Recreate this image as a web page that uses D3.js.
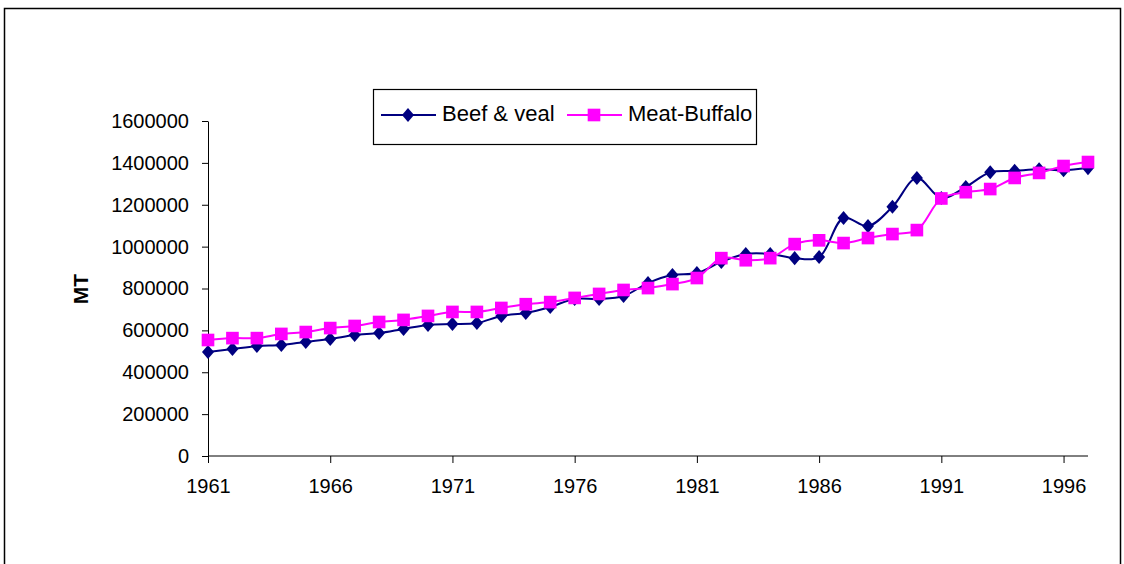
<!DOCTYPE html>
<html>
<head>
<meta charset="utf-8">
<title>Beef & veal vs Meat-Buffalo</title>
<style>
  body { margin: 0; background: #fff; }
  svg { display: block; font-family: "Liberation Sans", Arial, sans-serif; }
</style>
</head>
<body>
<svg id="svg" width="1124" height="564"></svg>
<script src="https://d3js.org/d3.v7.min.js"></script>
<script>
const years = d3.range(1961, 1998);
const beefVeal = [
  497000, 511000, 525000, 530000, 545000, 559000, 578000, 587000, 607000, 626000,
  630000, 635000, 669000, 683000, 712000, 750000, 750000, 764000, 826000, 864000,
  874000, 927000, 965000, 965000, 945000, 950000, 1137000, 1098000, 1190000, 1328000,
  1232000, 1285000, 1355000, 1362000, 1370000, 1365000, 1375000
];
const meatBuffalo = [
  554000, 563000, 563000, 583000, 592000, 611000, 621000, 640000, 650000, 669000,
  688000, 688000, 707000, 725000, 735000, 755000, 774000, 793000, 802000, 821000,
  850000, 945000, 935000, 945000, 1012000, 1030000, 1017000, 1041000, 1060000, 1079000,
  1230000, 1260000, 1275000, 1328000, 1352000, 1385000, 1404000
];
const yTicks = [0, 200000, 400000, 600000, 800000, 1000000, 1200000, 1400000, 1600000];
const xTickYears = [1961, 1966, 1971, 1976, 1981, 1986, 1991, 1996];

const svg = d3.select("#svg");

// outer chart frame
svg.append("rect")
  .attr("x", 4.5).attr("y", 8.5)
  .attr("width", 1116).attr("height", 570)
  .attr("fill", "none").attr("stroke", "#000").attr("stroke-width", 1.5);

const x = d3.scaleLinear().domain([1961, 1997]).range([208, 1088]);
const y = d3.scaleLinear().domain([0, 1600000]).range([456, 121]);

// y axis
const yAxis = svg.append("g")
  .attr("transform", "translate(208,0)")
  .call(d3.axisLeft(y).tickValues(yTicks).tickSize(6).tickSizeOuter(0).tickPadding(13)
    .tickFormat(d3.format("d")));
yAxis.attr("font-size", null).attr("font-family", null);
yAxis.selectAll("text").attr("font-size", 20).attr("fill", "#000");
yAxis.selectAll("line, path").attr("stroke", "#000");

// x axis
const xAxis = svg.append("g")
  .attr("transform", "translate(0,456)")
  .call(d3.axisBottom(x).tickValues(xTickYears).tickSize(7).tickSizeOuter(0).tickPadding(16)
    .tickFormat(d3.format("d")));
xAxis.attr("font-size", null).attr("font-family", null);
xAxis.select(".domain").attr("d", "M208,0H1088");
xAxis.selectAll("text").attr("font-size", 20).attr("fill", "#000");
xAxis.selectAll("line, path").attr("stroke", "#000");

// y axis title
svg.append("text")
  .attr("transform", "translate(88,289) rotate(-90)")
  .attr("text-anchor", "middle")
  .attr("font-size", 21).attr("font-weight", "bold")
  .text("MT");

const line = d3.line()
  .x((d, i) => x(years[i]))
  .y(d => y(d))
  .curve(d3.curveCatmullRom.alpha(0.5));

// wider diamond than d3's default
const diamond = {
  draw(ctx, size) {
    const w = Math.sqrt(size) * 0.72, h = Math.sqrt(size) * 0.84;
    ctx.moveTo(0, -h); ctx.lineTo(w, 0); ctx.lineTo(0, h); ctx.lineTo(-w, 0); ctx.closePath();
  }
};

const series = [
  { name: "Beef & veal", values: beefVeal, color: "#000080", shape: diamond, size: 70 },
  { name: "Meat-Buffalo", values: meatBuffalo, color: "#ff00ff", shape: d3.symbolSquare, size: 160 }
];

series.forEach(s => {
  svg.append("path")
    .attr("d", line(s.values))
    .attr("fill", "none")
    .attr("stroke", s.color)
    .attr("stroke-width", 2);
});
series.forEach(s => {
  svg.append("g").selectAll("path")
    .data(s.values)
    .enter().append("path")
    .attr("d", d3.symbol().type(s.shape).size(s.size))
    .attr("transform", (d, i) => "translate(" + x(years[i]) + "," + y(d) + ")")
    .attr("fill", s.color);
});

// legend
const legend = svg.append("g");
legend.append("rect")
  .attr("x", 373.5).attr("y", 89.5).attr("width", 383).attr("height", 55)
  .attr("fill", "#fff").attr("stroke", "#000").attr("stroke-width", 1.2);
const legendX = [381, 567];
series.forEach((s, i) => {
  const lx = legendX[i];
  legend.append("line")
    .attr("x1", lx).attr("x2", lx + 55).attr("y1", 115).attr("y2", 115)
    .attr("stroke", s.color).attr("stroke-width", 2);
  legend.append("path")
    .attr("d", d3.symbol().type(s.shape).size(s.size)())
    .attr("transform", "translate(" + (lx + 27) + ",115)")
    .attr("fill", s.color);
  legend.append("text")
    .attr("x", lx + 61).attr("y", 121)
    .attr("font-size", 22)
    .text(s.name);
});
</script>
</body>
</html>
